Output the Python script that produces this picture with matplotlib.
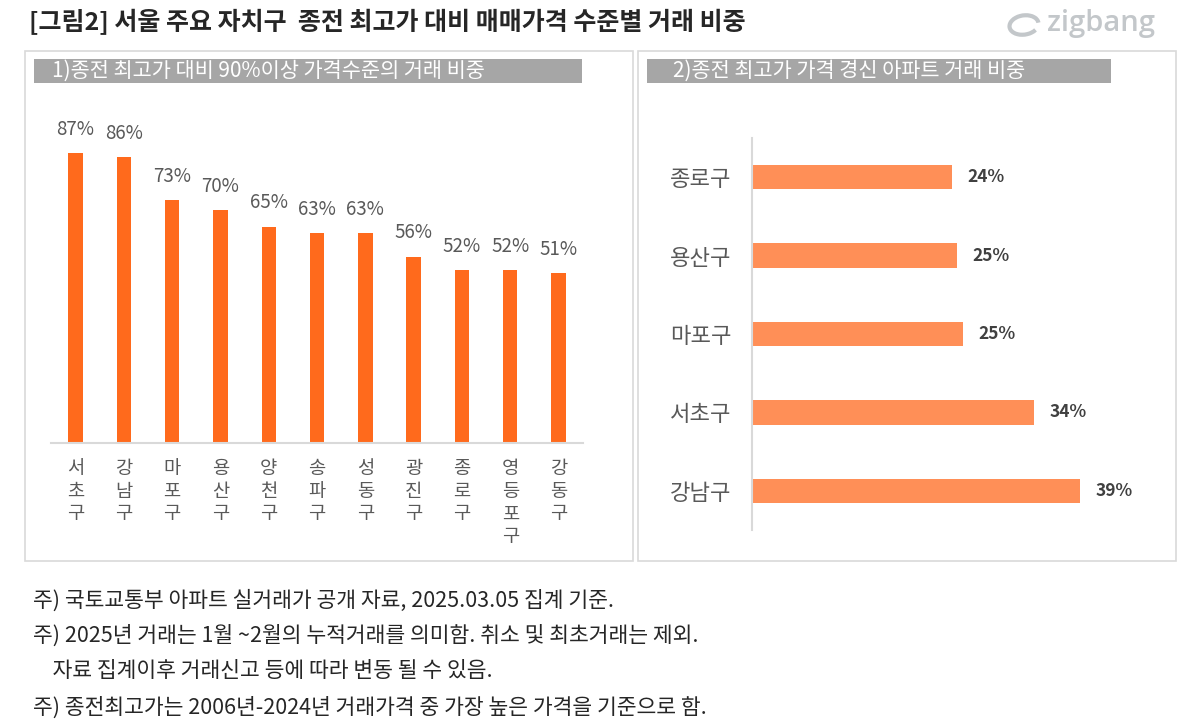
import numpy as np
import matplotlib
matplotlib.use('Agg')
import matplotlib.pyplot as plt
from matplotlib.patches import Rectangle, Arc

plt.rcParams['font.family'] = ['Noto Sans CJK KR', 'DejaVu Sans']

# data
left_names = ['서초구', '강남구', '마포구', '용산구', '양천구', '송파구',
              '성동구', '광진구', '종로구', '영등포구', '강동구']
left_vals = [87, 86, 73, 70, 65, 63, 63, 56, 52, 52, 51]

right_names = ['종로구', '용산구', '마포구', '서초구', '강남구']
right_vals = [24.0, 24.6, 25.3, 33.8, 39.3]

title = '[그림2] 서울 주요 자치구  종전 최고가 대비 매매가격 수준별 거래 비중'
sub1 = '1)종전 최고가 대비 90%이상 가격수준의 거래 비중'
sub2 = '2)종전 최고가 가격 경신 아파트 거래 비중'
notes = ['주) 국토교통부 아파트 실거래가 공개 자료, 2025.03.05 집계 기준.',
         '주) 2025년 거래는 1월 ~2월의 누적거래를 의미함. 취소 및 최초거래는 제외.',
         '    자료 집계이후 거래신고 등에 따라 변동 될 수 있음.',
         '주) 종전최고가는 2006년-2024년 거래가격 중 가장 높은 가격을 기준으로 함.']

W, H = 1200, 725
fig = plt.figure(figsize=(W/100, H/100), dpi=100)

def box(x0, y0, x1, y1):
    # pixel coords (top-left origin) -> figure fraction rect
    return [x0/W, 1 - y1/H, (x1 - x0)/W, (y1 - y0)/H]

def fig_rect(x0, y0, x1, y1, **kw):
    r = box(x0, y0, x1, y1)
    fig.patches.append(Rectangle((r[0], r[1]), r[2], r[3], transform=fig.transFigure, **kw))

gray_txt = '#595959'

# title + logo
fig.text(29/W, 1 - 22/H, title, fontsize=18, fontweight='bold', color='#262626', va='center')
fig.text(1047/W, 1 - 24/H, 'zigbang', fontsize=21, fontweight='semibold', color='#c3c7ca',
         va='center', family=['Open Sans', 'DejaVu Sans'])
fig.patches.append(Arc((1024/W, 1 - 25/H), 28/W, 20/H, angle=-25, theta1=40, theta2=350,
                       lw=3, color='#c3c7ca', transform=fig.transFigure))

# panel frames and headers
fig_rect(25, 51, 633, 561, fill=False, edgecolor='#d9d9d9', lw=1.2)
fig_rect(638, 51, 1176, 561, fill=False, edgecolor='#d9d9d9', lw=1.2)
fig_rect(34, 59, 582, 83, color='#a6a6a6', lw=0)
fig_rect(647, 59, 1111, 83, color='#a6a6a6', lw=0)
fig.text(52/W, 1 - 71/H, sub1, fontsize=15, color='white', va='center')
fig.text(673/W, 1 - 71/H, sub2, fontsize=15, color='white', va='center')

# left chart
ax1 = fig.add_axes(box(51.4, 110, 582.7, 443))
x = np.arange(len(left_vals))
ax1.bar(x, left_vals, width=0.3, color='#ff6a1c')
for i, v in enumerate(left_vals):
    ax1.annotate('%d%%' % v, (i, v), xytext=(0, 17), textcoords='offset points',
                 ha='center', va='center', fontsize=13.5, color=gray_txt)
ax1.set_xlim(-0.5, len(left_vals) - 0.5)
ax1.set_ylim(0, 100)
ax1.set_xticks(x)
ax1.set_xticklabels(['\n'.join(n) for n in left_names], fontsize=13.5, color=gray_txt,
                    linespacing=1.1, va='top')
ax1.tick_params(axis='x', length=0, pad=11)
ax1.set_yticks([])
for s in ['top', 'right', 'left']:
    ax1.spines[s].set_visible(False)
ax1.spines['bottom'].set_color('#d9d9d9')
ax1.spines['bottom'].set_linewidth(1.5)
ax1.patch.set_alpha(0)

# right chart
ax2 = fig.add_axes(box(752, 138, 1169.5, 530))
y = np.arange(len(right_vals))
ax2.barh(y, right_vals, height=0.31, color='#ff8f57')
for i, v in enumerate(right_vals):
    ax2.annotate('%d%%' % round(v), (v, i), xytext=(11, 0), textcoords='offset points',
                 ha='left', va='center', fontsize=12.5, fontweight='bold', color='#404040')
ax2.set_xlim(0, 50)
ax2.set_ylim(len(right_vals) - 0.5, -0.5)
ax2.set_yticks(y)
ax2.set_yticklabels(right_names, fontsize=16, color=gray_txt)
ax2.tick_params(axis='y', length=0, pad=15)
ax2.set_xticks([])
for s in ['top', 'right', 'bottom']:
    ax2.spines[s].set_visible(False)
ax2.spines['left'].set_color('#d9d9d9')
ax2.spines['left'].set_linewidth(1.5)
ax2.patch.set_alpha(0)

# footnotes
for t, yy in zip(notes, [601, 636, 671, 708]):
    fig.text(33/W, 1 - yy/H, t, fontsize=15.5, color='#262626', va='center')

fig.savefig('out.png', dpi=100, facecolor='white')
